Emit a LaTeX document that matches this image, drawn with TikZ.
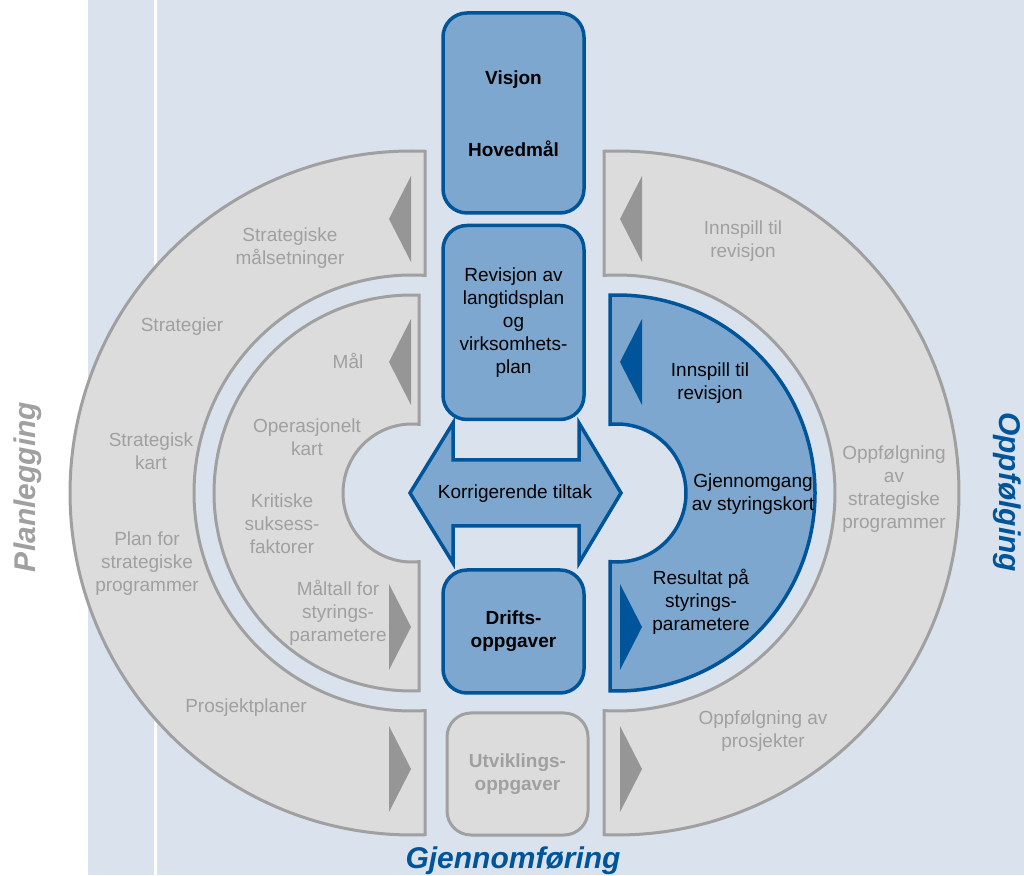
\documentclass[tikz,border=0pt]{standalone}
\usepackage{fontspec}
\setmainfont{Liberation Sans}
\usetikzlibrary{positioning,calc}

\definecolor{bgblue}{HTML}{DAE3ED}
\definecolor{ringgrey}{HTML}{DCDCDC}
\definecolor{linegrey}{HTML}{A0A0A0}
\definecolor{trigrey}{HTML}{969696}
\definecolor{txtgrey}{HTML}{A0A0A0}
\definecolor{midblue}{HTML}{7DA7CE}
\definecolor{darkblue}{HTML}{00559A}

\begin{document}
\begin{tikzpicture}[
  x=1pt, y=1pt,
  lab/.style={align=center, font=\fontsize{19}{23}\selectfont},
  blab/.style={align=center, font=\fontsize{19}{23}\selectfont\bfseries},
  glab/.style={lab, text=txtgrey},
  gblab/.style={blab, text=txtgrey},
  head/.style={font=\fontsize{30}{36}\selectfont\bfseries\itshape},
  gpiece/.style={fill=ringgrey, draw=linegrey, line width=3pt},
  bpiece/.style={fill=midblue, draw=darkblue, line width=3.5pt},
  bbox/.style={bpiece, rounded corners=24pt, minimum width=141pt},
  gbox/.style={gpiece, rounded corners=24pt, minimum width=141pt}
]

\useasboundingbox (0,0) rectangle (1024,875);
\fill[bgblue] (88,0) rectangle (1024,875);
\draw[white, line width=3pt] (155,0) -- (155,875);

% centres of the two halves
\coordinate (l) at (412,382);
\coordinate (r) at (617,382);

% outer ring
\draw[gpiece] ($(l)+(87.82:342pt)$) arc[start angle=87.82, end angle=272.18, radius=342pt]
  -- ($(l)+(273.42:218pt)$) arc[start angle=273.42, end angle=86.58, radius=218pt] -- cycle;
\draw[gpiece] ($(r)+(92.18:342pt)$) arc[start angle=92.18, end angle=-92.18, radius=342pt]
  -- ($(r)+(-93.42:218pt)$) arc[start angle=-93.42, end angle=93.42, radius=218pt] -- cycle;

% inner ring
\draw[gpiece] ($(l)+(87.97:198pt)$) arc[start angle=87.97, end angle=272.03, radius=198pt]
  -- ($(l)+(275.82:69pt)$) arc[start angle=275.82, end angle=84.18, radius=69pt] -- cycle;
\draw[bpiece] ($(r)+(92.03:198pt)$) arc[start angle=92.03, end angle=-92.03, radius=198pt]
  -- ($(r)+(-95.82:69pt)$) arc[start angle=-95.82, end angle=95.82, radius=69pt] -- cycle;

% triangles
\foreach \tx/\ty/\dx/\col in {389/656/22/trigrey, 389/513/22/trigrey,
    411/248/-22/trigrey, 411/106/-22/trigrey, 620/656/22/trigrey,
    620/513/22/darkblue, 642/248/-22/darkblue, 642/106/-22/trigrey}
  \fill[\col] (\tx,\ty) -- ++(\dx,43) -- ++(0,-86) -- cycle;

% middle column
\node[bbox, minimum height=200pt] (vbox) at (513.5,762) {};
\node[bbox, lab, minimum height=194pt, below=9pt of vbox] (revisjon)
  {Revisjon av\\langtidsplan\\og\\virksomhets-\\plan};
\node[bbox, blab, minimum height=123pt] (drift) at (513.5,243.5) {Drifts-\\oppgaver};
\node[gbox, gblab, minimum height=122pt] (utvikling) at (517.5,101) {Utviklings-\\oppgaver};
\node[blab] (visjon) at (513.5,795) {Visjon};
\node[blab] (hovedmaal) at (513.5,726) {Hovedmål};

\draw[bpiece] (410,382) -- (453,452) -- (453,415) -- (579,415) -- (579,452)
  -- (621,382) -- (579,312) -- (579,349) -- (453,349) -- (453,312) -- cycle;
\node[lab] (korr) at (515,381) {Korrigerende tiltak};

% labels, left
\node[glab] (smaal) at (290,627) {Strategiske\\målsetninger};
\node[glab] (strategier) at (182,548) {Strategier};
\node[glab] (skart) at (151,424) {Strategisk\\kart};
\node[glab] (planfor) at (147,311) {Plan for\\strategiske\\programmer};
\node[glab] (prosjekt) at (246,167) {Prosjektplaner};
\node[glab] (maal) at (348,514) {Mål};
\node[glab] (opkart) at (307,438) {Operasjonelt\\kart};
\node[glab] (kritiske) at (282,351) {Kritiske\\suksess-\\faktorer};
\node[glab] (maaltall) at (338,262) {Måltall for\\styrings-\\parametere};

% labels, right
\node[glab] (innspill) at (743,634) {Innspill til\\revisjon};
\node[glab] (oppfstrat) at (894,386) {Oppfølgning\\av\\strategiske\\programmer};
\node[glab] (oppfprosj) at (763,144) {Oppfølgning av\\prosjekter};
\node[lab] (innspillb) at (710,492) {Innspill til\\revisjon};
\node[lab] (gjennomgang) at (753,381) {Gjennomgang\\av styringskort};
\node[lab] (resultat) at (701,273) {Resultat på\\styrings-\\parametere};

% phases
\node[head, text=txtgrey, rotate=90] (planlegging) at (28,388) {Planlegging};
\node[head, text=darkblue, rotate=-90] (oppfolging) at (1007,383) {Oppfølging};
\node[head, text=darkblue, anchor=base] (gjennomforing) at (513,7) {Gjennomføring};

\end{tikzpicture}
\end{document}
